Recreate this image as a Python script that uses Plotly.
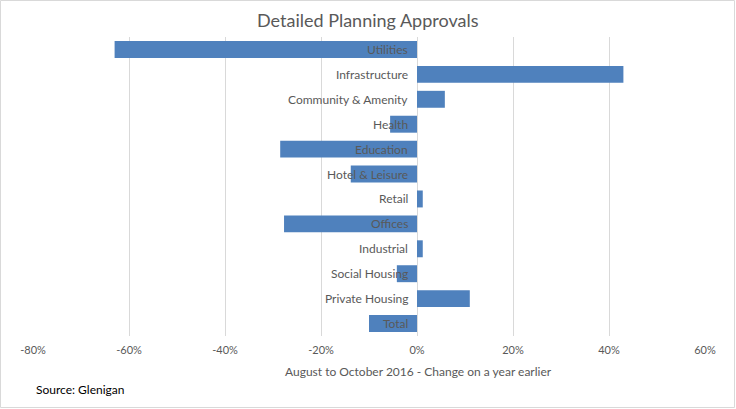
import plotly.graph_objects as go

categories = ["Utilities", "Infrastructure", "Community & Amenity", "Health", "Education",
              "Hotel & Leisure", "Retail", "Offices", "Industrial", "Social Housing",
              "Private Housing", "Total"]
values = [-63, 43, 5.8, -5.6, -28.5, -13.8, 1.2, -27.7, 1.2, -4.2, 11, -10]
tick_vals = [-80, -60, -40, -20, 0, 20, 40, 60]
tick_text = ["-80%", "-60%", "-40%", "-20%", "0%", "20%", "40%", "60%"]

FONT = "Lato"
GREY = "#595959"

fig = go.Figure()
fig.add_trace(go.Bar(
    x=values, y=categories, orientation="h",
    marker=dict(color="#4f81bd", line=dict(width=0)),
    hoverinfo="x+y",
))

for c in categories:
    fig.add_annotation(x=0, y=c, xref="x", yref="y", text=c, showarrow=False,
                       xanchor="right", xshift=-7,
                       font=dict(family=FONT, size=12, color=GREY))

W, H = 736, 409
ml, mr, mt, mb = 33, 31, 37, 73
pw, ph = W - ml - mr, H - mt - mb

fig.add_annotation(xref="paper", yref="paper", x=(W / 2 - ml) / pw, y=1 + (37 - 20) / ph,
                   text="Detailed Planning Approvals", showarrow=False,
                   xanchor="center", yanchor="middle",
                   font=dict(family=FONT, size=18, color=GREY))
fig.add_annotation(xref="paper", yref="paper", x=(34 - ml) / pw, y=-(389 - (H - mb)) / ph,
                   text="Source: Glenigan", showarrow=False,
                   xanchor="left", yanchor="middle",
                   font=dict(family=FONT, size=12, color="#000000"))
fig.add_annotation(xref="paper", yref="paper", x=(418 - ml) / pw, y=-(371 - (H - mb)) / ph,
                   text="August to October 2016 - Change on a year earlier", showarrow=False,
                   xanchor="center", yanchor="middle",
                   font=dict(family=FONT, size=12, color=GREY))

# outer chart border
fig.add_shape(type="rect", xref="paper", yref="paper",
              x0=-(ml - 0.5) / pw, x1=1 + (mr - 1.5) / pw,
              y0=-(mb - 1.5) / ph, y1=1 + (mt - 0.5) / ph,
              line=dict(color="#d9d9d9", width=1), fillcolor="rgba(0,0,0,0)", layer="below")

fig.update_layout(
    width=W, height=H,
    margin=dict(l=ml, r=mr, t=mt, b=mb),
    paper_bgcolor="white", plot_bgcolor="white",
    showlegend=False, bargap=0.32,
    font=dict(family=FONT, color=GREY),
    xaxis=dict(range=[-80, 60], tickvals=tick_vals, ticktext=tick_text,
               showgrid=True, gridcolor="#d9d9d9", gridwidth=1,
               zeroline=True, zerolinecolor="#d9d9d9", zerolinewidth=1,
               showline=False, ticks="", ticklen=0, ticklabelstandoff=6,
               tickfont=dict(family=FONT, size=11, color=GREY)),
    yaxis=dict(categoryorder="array", categoryarray=categories, autorange="reversed",
               showticklabels=False, showgrid=False, zeroline=False, showline=False, ticks=""),
)

fig.write_html("out.html")
